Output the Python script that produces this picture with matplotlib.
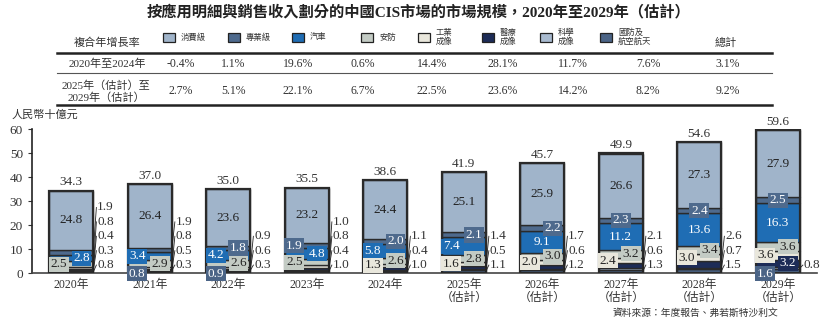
import numpy as np
import matplotlib.pyplot as plt
from matplotlib.lines import Line2D
from matplotlib.patches import Rectangle

plt.rcParams['font.family'] = ['Liberation Serif', 'Noto Sans CJK TC', 'DejaVu Sans']

# data (RMB bn), stacked bottom -> top
years = ['2020年', '2021年', '2022年', '2023年', '2024年', '2025年\n（估計）', '2026年\n（估計）',
         '2027年\n（估計）', '2028年\n（估計）', '2029年\n（估計）']
defense = [0.8, 0.8, 0.9, 1.0, 1.0, 1.1, 1.2, 1.3, 1.5, 1.6]
science = [0.3, 0.3, 0.3, 0.4, 0.4, 0.5, 0.6, 0.6, 0.7, 0.8]
medical = [0.4, 0.5, 0.6, 0.8, 1.1, 1.4, 1.7, 2.1, 2.6, 3.2]
industrial = [0.8, 0.8, 0.9, 1.0, 1.3, 1.6, 2.0, 2.4, 3.0, 3.6]
security = [2.5, 2.9, 2.6, 2.5, 2.6, 2.8, 3.0, 3.2, 3.4, 3.6]
auto = [2.8, 3.4, 4.2, 4.8, 5.8, 7.4, 9.1, 11.2, 13.6, 16.3]
pro = [1.9, 1.9, 1.8, 1.9, 2.0, 2.1, 2.2, 2.3, 2.4, 2.5]
consumer = [24.8, 26.4, 23.6, 23.2, 24.4, 25.1, 25.9, 26.6, 27.3, 27.9]
totals = [34.3, 37.0, 35.0, 35.5, 38.6, 41.9, 45.7, 49.9, 54.6, 59.6]

# CAGR table
legend_names = ['消費級', '專業級', '汽車', '安防', '工業\n成像', '醫療\n成像', '科學\n成像', '國防及\n航空航天']
cagr_rows = ['2020年至2024年', '2025年（估計）至\n2029年（估計）']
cagr_2020_2024 = ['-0.4%', '1.1%', '19.6%', '0.6%', '14.4%', '28.1%', '11.7%', '7.6%', '3.1%']
cagr_2025_2029 = ['2.7%', '5.1%', '22.1%', '6.7%', '22.5%', '23.6%', '14.2%', '8.2%', '9.2%']

series = [defense, science, medical, industrial, security, auto, pro, consumer]
colors = ['#4b6486', '#a9bbd0', '#1d2c57', '#e9e7dc', '#c3cbc4', '#1f6db4', '#4e6a8d', '#a0b4ca']
legend_colors = ['#a0b4ca', '#4e6a8d', '#1f6db4', '#c3cbc4', '#e9e7dc', '#1d2c57', '#a9bbd0', '#4b6486']
text_white = [True, False, True, False, False, True, True, False]

# how each segment is labelled: s=side list, L/R=box left/right, C=centre, B=box below axis
modes = ['ssssLRsC', 'BsssRLsC', 'BsssRLRC', 'ssssLRLC', 'sssLRLRC',
         'sssLRLRC', 'sssLRCRC', 'sssLRCCC', 'sssLRCCC', 'BsRLRCCC']

W, H = 830, 326
fig = plt.figure(figsize=(W / 100, H / 100), dpi=100)
fx = lambda px: px / W
fy = lambda py: 1 - py / H
dark = '#333333'

# ---- title and table ----
fig.text(fx(418), fy(12), '按應用明細與銷售收入劃分的中國CIS市場的市場規模，2020年至2029年（估計）',
         ha='center', va='center', fontsize=11, fontweight='bold', color='#222222')
fig.text(fx(107), fy(43), '複合年增長率', ha='center', va='center', fontsize=8, color=dark)
sw_x = [163, 228, 292, 361, 418, 482, 540, 600]
for x, name, c in zip(sw_x, legend_names, legend_colors):
    fig.add_artist(Rectangle((fx(x), fy(42)), 12 / W, 9 / H, transform=fig.transFigure,
                             facecolor=c, edgecolor='#222222', lw=0.9))
    fig.text(fx(x + 18), fy(37.5), name, ha='left', va='center', fontsize=6, color=dark,
             linespacing=1.1)
fig.text(fx(726), fy(43), '總計', ha='center', va='center', fontsize=8, color=dark)

for y, lw, c in [(53, 1.8, '#222222'), (73, 0.8, '#555555'), (105, 1.8, '#222222')]:
    fig.add_artist(Line2D([fx(57), fx(772)], [fy(y), fy(y)], transform=fig.transFigure, lw=lw, color=c))

col_x = [181, 233, 298, 363, 432, 503, 573, 648, 728]
fig.text(fx(107), fy(64), cagr_rows[0], ha='center', va='center', fontsize=8, color=dark)
fig.text(fx(106), fy(91.5), cagr_rows[1], ha='center', va='center', fontsize=8, color=dark,
         linespacing=1.15, multialignment='center')
for x, a, b in zip(col_x, cagr_2020_2024, cagr_2025_2029):
    fig.text(fx(x), fy(64), a, ha='center', va='center', fontsize=8.5, color=dark)
    fig.text(fx(x), fy(91), b, ha='center', va='center', fontsize=8.5, color=dark)

# ---- stacked bars ----
ax = fig.add_axes([fx(32), fy(273), (817 - 32) / W, (273 - 129) / H])
x = np.arange(len(years))
bw = 0.56
bottom = np.zeros(len(years))
for vals, c in zip(series, colors):
    ax.bar(x, vals, bw, bottom=bottom, color=c, edgecolor='#2a2a2a', lw=1.0, zorder=2)
    bottom += np.array(vals)
for xi, t in zip(x, totals):
    ax.add_patch(Rectangle((xi - bw / 2, 0), bw, t, fill=False, edgecolor='#2a2a2a', lw=1.6, zorder=3))
    ax.text(xi, t + 1.0, f'{t:.1f}', ha='center', va='bottom', fontsize=9.5, color=dark)

for i, m in enumerate(modes):
    cum = 0
    side = []
    for j, vals in enumerate(series):
        v = vals[i]
        mid = cum + v / 2
        cum += v
        mode = m[j]
        if mode == 's':
            side.append((mid, v))
            continue
        if mode == 'C':
            px, py = x[i], mid
        elif mode == 'L':
            px, py = x[i] - 0.16, mid
        elif mode == 'R':
            px, py = x[i] + 0.13, mid
        else:
            px, py = x[i] - 0.16, -0.35
        tc = 'white' if text_white[j] else '#222222'
        boxed = not (mode == 'C' and j in (5, 7))
        ax.text(px, py, f'{v:.1f}', ha='center', va='center', fontsize=9.5, color=tc, zorder=5,
                bbox=dict(boxstyle='square,pad=0.12', fc=colors[j], ec='none') if boxed else None,
                clip_on=False)
    # small segments listed on the right of the bar, bottom segment lowest
    right = x[i] + bw / 2
    tx = right + 0.05
    for k, (mid, v) in enumerate(side):
        ly = 3.3 + 6 * k
        ax.plot([right, tx - 0.01], [mid, ly], color='#222222', lw=0.6, zorder=4, clip_on=False)
        ax.text(tx, ly, f'{v:.1f}', ha='left', va='center', fontsize=9.5, color=dark, zorder=5)

ax.set_xlim(-0.5, 9.5)
ax.set_ylim(0, 60)
ax.set_yticks(range(0, 61, 10))
ax.set_xticks(x)
ax.set_xticklabels(years, fontsize=8.5, color=dark, linespacing=1.1)
ax.tick_params(axis='y', labelsize=9.5, colors=dark, length=3, width=0.8)
ax.tick_params(axis='x', length=0, pad=4)
for s in ['top', 'right']:
    ax.spines[s].set_visible(False)
ax.spines['left'].set_linewidth(1.2)
ax.spines['left'].set_color('#222222')
ax.spines['bottom'].set_linewidth(1.2)
ax.spines['bottom'].set_color('#444444')

fig.text(fx(12), fy(115), '人民幣十億元', ha='left', va='center', fontsize=8, color=dark)
fig.text(fx(613), fy(313), '資料來源：年度報告、弗若斯特沙利文', ha='left', va='center',
         fontsize=7, color=dark)

fig.savefig('out.png', dpi=100)
